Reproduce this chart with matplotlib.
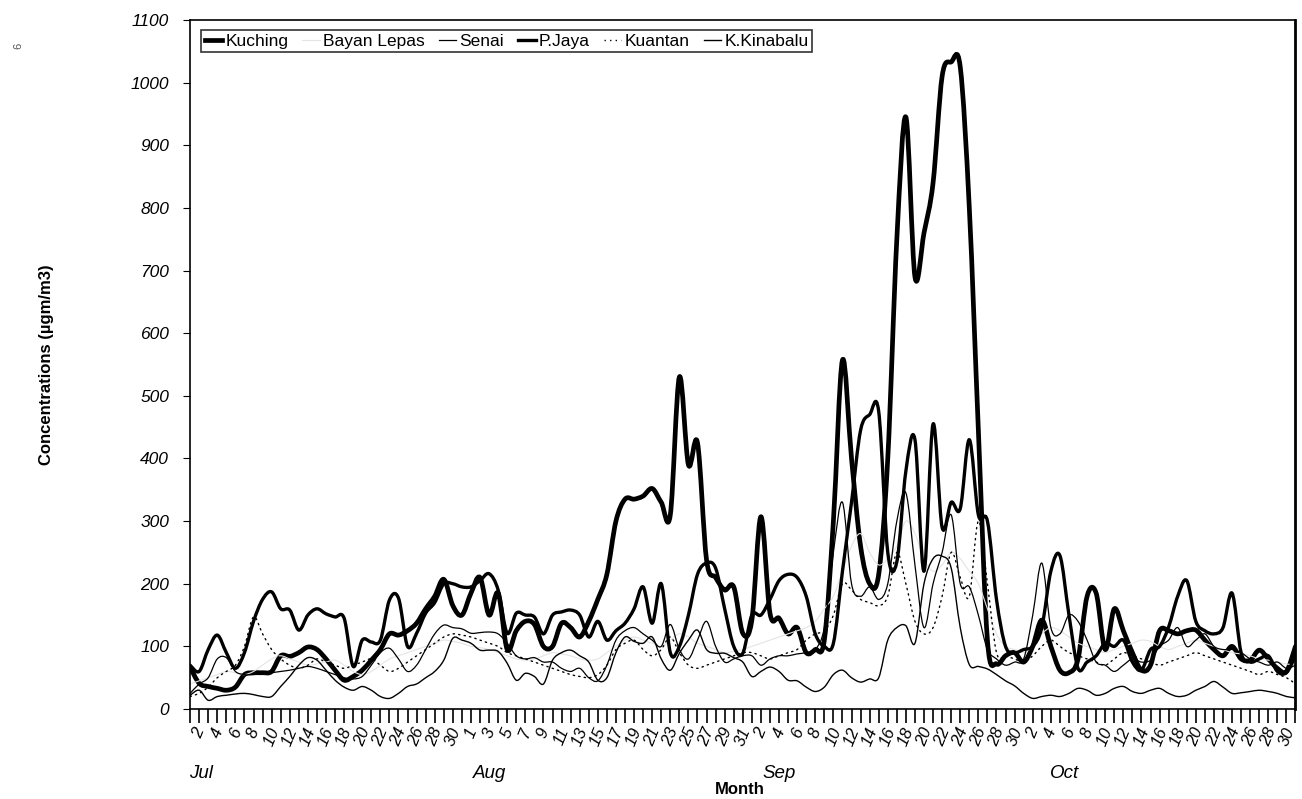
import matplotlib
matplotlib.use("Agg")
import matplotlib.pyplot as plt
from matplotlib.path import Path
from matplotlib.patches import PathPatch
from matplotlib.lines import Line2D
import numpy as np

plt.rcParams['font.family'] = ['Liberation Sans', 'DejaVu Sans']

# daily values, 1 Jul - 31 Oct
months = ["Jul", "Aug", "Sep", "Oct"]
month_days = [31, 31, 30, 31]
month_label_pos = [1.2, 33, 65, 96.5]

kuching = [
    67, 41, 36, 33, 30, 35, 55, 58, 58, 60, 85, 84, 90, 99, 95, 80, 62, 46, 52, 62,
    78, 95, 120, 118, 125, 137, 160, 180, 207, 165, 150,
    185, 210, 150, 185, 95, 125, 140, 135, 100, 100, 137, 130, 115, 140, 175, 215, 300,
    335, 335, 340, 352, 330, 310, 530, 390, 425, 238, 210, 190, 195, 121,
    142, 307, 153, 145, 120, 130, 90, 95, 110, 300, 557, 400, 260, 200, 215, 400, 750,
    945, 690, 760, 840, 1010, 1033, 1025, 800, 445, 110, 72, 85, 90,
    75, 100, 142, 100, 62, 58, 80, 180, 185, 95, 160, 125, 90, 62, 70, 125, 125, 120,
    125, 126, 110, 95, 85, 100, 80, 78, 94, 80, 65, 60, 100]

bayan_lepas = [
    40, 45, 50, 55, 60, 58, 55, 60, 70, 80, 85, 80, 75, 70, 72, 75, 78, 70, 60, 55,
    60, 70, 80, 85, 90, 95, 100, 105, 110, 108, 105,
    100, 98, 95, 90, 85, 80, 78, 80, 85, 90, 88, 85, 80, 78, 80, 90, 100, 110, 115,
    110, 105, 100, 110, 120, 115, 105, 100, 95, 90, 92, 95,
    100, 105, 110, 115, 120, 125, 130, 140, 160, 180, 220, 260, 280, 250, 230, 240,
    260, 300, 280, 240, 220, 230, 250, 240, 220, 200, 160, 120, 100, 95,
    90, 100, 120, 130, 125, 115, 105, 100, 95, 90, 95, 100, 105, 110, 108, 100, 95,
    100, 105, 110, 105, 100, 95, 90, 88, 85, 80, 78, 75, 72, 70]

senai = [
    25, 40, 50, 80, 82, 60, 55, 55, 56, 58, 60, 62, 65, 68, 65, 60, 55, 50, 48, 52,
    70, 90, 97, 80, 60, 70, 95, 120, 134, 130, 128,
    121, 122, 123, 120, 105, 85, 80, 82, 75, 75, 65, 60, 65, 50, 45, 70, 110, 125, 130,
    120, 110, 100, 135, 95, 80, 110, 140, 100, 75, 80, 85,
    85, 70, 80, 85, 85, 88, 90, 95, 130, 250, 330, 200, 180, 195, 175, 200, 300, 345,
    230, 130, 200, 250, 310, 200, 195, 150, 95, 80, 70, 75,
    80, 150, 233, 130, 120, 150, 140, 110, 75, 70, 60, 70, 80, 75, 78, 100, 110, 130,
    100, 110, 120, 100, 95, 95, 90, 80, 75, 70, 75, 65, 70]

p_jaya = [
    70, 60, 95, 118, 90, 65, 90, 140, 175, 187, 160, 158, 126, 150, 160, 152, 147, 145,
    68, 110, 107, 110, 174, 177, 100, 121, 153, 170, 200, 200, 195,
    195, 205, 216, 190, 121, 153, 150, 147, 120, 150, 155, 158, 150, 115, 140, 110, 125,
    137, 160, 195, 137, 200, 90, 100, 150, 215, 233, 225, 160, 100, 89,
    150, 150, 175, 205, 215, 210, 180, 120, 100, 105, 220, 330, 445, 470, 475, 250, 235,
    380, 430, 220, 455, 290, 330, 320, 430, 310, 300, 175, 100, 90,
    95, 100, 130, 220, 245, 150, 65, 75, 85, 105, 100, 110, 75, 62, 95, 100, 131, 180,
    205, 140, 125, 120, 130, 185, 90, 75, 80, 85, 60, 58, 85]

kuantan = [
    20, 25, 35, 50, 60, 70, 100, 147, 120, 95, 80, 70, 65, 70, 80, 75, 70, 65, 70, 75,
    80, 70, 60, 65, 75, 85, 95, 105, 115, 120, 118,
    115, 110, 105, 100, 90, 85, 80, 75, 70, 65, 60, 55, 52, 50, 55, 70, 95, 105, 110,
    95, 85, 95, 115, 90, 70, 65, 70, 75, 80, 85, 90,
    90, 85, 80, 85, 90, 95, 110, 120, 125, 150, 200, 190, 175, 170, 165, 180, 250, 200,
    140, 120, 130, 180, 250, 210, 180, 300, 200, 90, 85, 80,
    75, 85, 100, 110, 100, 90, 85, 80, 75, 70, 80, 90, 85, 80, 75, 70, 75, 80, 85, 90,
    85, 80, 75, 70, 65, 60, 55, 60, 55, 50, 40]

k_kinabalu = [
    22, 30, 14, 20, 22, 24, 25, 23, 20, 20, 36, 52, 70, 82, 78, 62, 46, 35, 30, 36,
    30, 20, 17, 25, 36, 40, 50, 60, 78, 113, 110,
    105, 94, 94, 92, 73, 46, 57, 52, 40, 78, 90, 94, 85, 75, 46, 50, 90, 115, 108,
    105, 115, 80, 62, 89, 110, 126, 95, 89, 89, 82, 75,
    52, 60, 67, 60, 46, 45, 35, 28, 35, 55, 62, 50, 43, 48, 50, 110, 130, 133,
    105, 200, 240, 244, 225, 130, 71, 68, 64, 55, 45, 37,
    25, 17, 20, 22, 20, 25, 33, 30, 22, 25, 33, 36, 28, 25, 30, 33, 25, 20, 22, 30,
    36, 44, 35, 25, 26, 28, 30, 28, 25, 20, 18]

series = [
    ("Kuching", kuching, dict(color="black", lw=3.4)),
    ("Bayan Lepas", bayan_lepas, dict(color="#e4e4e4", lw=0.8)),
    ("Senai", senai, dict(color="black", lw=0.9)),
    ("P.Jaya", p_jaya, dict(color="black", lw=2.4)),
    ("Kuantan", kuantan, dict(color="black", lw=1.0, ls=(0, (1, 3)))),
    ("K.Kinabalu", k_kinabalu, dict(color="black", lw=1.0)),
]

days = np.arange(sum(month_days))
day_of_month = np.concatenate([np.arange(1, n + 1) for n in month_days])


def smooth_path(x, y):
    # excel style smoothed line: bezier segments through every data point
    p = np.column_stack([x, y]).astype(float)
    ext = np.vstack([p[0], p, p[-1]])
    verts = [p[0]]
    codes = [Path.MOVETO]
    for i in range(len(p) - 1):
        c1 = ext[i + 1] + (ext[i + 2] - ext[i]) / 6.0
        c2 = ext[i + 2] - (ext[i + 3] - ext[i + 1]) / 6.0
        verts += [c1, c2, p[i + 1]]
        codes += [Path.CURVE4] * 3
    return Path(verts, codes)


fig = plt.figure(figsize=(13.02, 7.99), dpi=100)
ax = fig.add_axes([0.146, 0.1126, 0.849, 0.8624])

handles = []
for name, vals, style in series:
    patch = PathPatch(smooth_path(days, vals), facecolor="none", edgecolor=style["color"],
                      lw=style["lw"], ls=style.get("ls", "-"), capstyle="round",
                      joinstyle="round")
    ax.add_patch(patch)
    handles.append(Line2D([], [], color=style["color"], lw=style["lw"],
                          ls=style.get("ls", "-"), label=name))

ax.set_xlim(0, days[-1])
ax.set_ylim(0, 1100)
ax.set_yticks(np.arange(0, 1101, 100))
ax.set_yticklabels([str(v) for v in range(0, 1101, 100)], fontsize=12.5, style="italic")
ax.tick_params(axis="y", length=5, width=0.8, pad=10)

ax.set_xticks(days)
ax.set_xticklabels([str(d) if i % 2 == 1 else "" for i, d in enumerate(day_of_month)],
                   rotation=68, fontsize=12, style="italic", ha="center", va="top")
ax.tick_params(axis="x", length=10, width=1.2, pad=2)

for sp in ax.spines.values():
    sp.set_linewidth(1.2)
ax.spines["right"].set_linewidth(2)

trans = ax.get_xaxis_transform()
for m, xpos in zip(months, month_label_pos):
    ax.text(xpos, -0.093, m, transform=trans, fontsize=13.5, style="italic",
            ha="center", va="center")
ax.text(60.7, -0.117, "Month", transform=trans, fontsize=12, fontweight="bold",
        ha="center", va="center")
ax.set_ylabel("Concentrations (µgm/m3)", fontsize=12, fontweight="bold", labelpad=55)

fig.text(0.014, 0.943, "6", rotation=90, fontsize=8, color="#555555", ha="center", va="center")

leg = ax.legend(handles=handles, loc="upper left", bbox_to_anchor=(0.01, 0.985), ncol=6,
                frameon=True, fancybox=False, edgecolor="black", fontsize=12.5,
                handlelength=1.0, handletextpad=0.2, columnspacing=0.8, borderpad=0.2,
                borderaxespad=0)
leg.get_frame().set_linewidth(1.2)

fig.savefig("out.png", dpi=100)
